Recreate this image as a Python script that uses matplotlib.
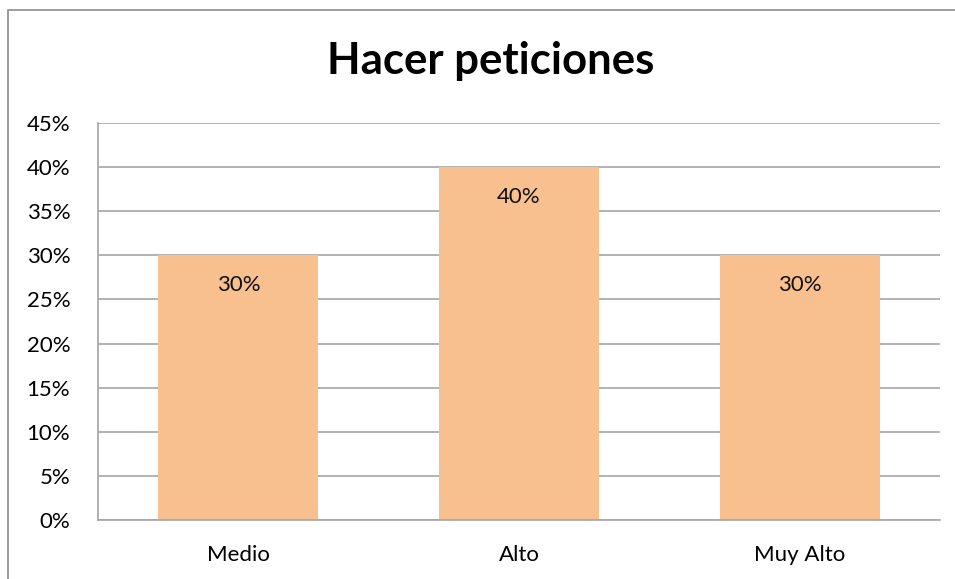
import matplotlib.pyplot as plt
from matplotlib.patches import Rectangle

plt.rcParams['font.family'] = ['Lato', 'DejaVu Sans']

# data
categories = ['Medio', 'Alto', 'Muy Alto']
values = [30, 40, 30]
yticks = [0, 5, 10, 15, 20, 25, 30, 35, 40, 45]

fig = plt.figure(figsize=(9.55, 5.79), dpi=100)
ax = fig.add_axes([98/955, 1 - 520/579, 842/955, 397/579])

# outer chart border (Excel style)
fig.patches.append(Rectangle((8/955, -0.05), 1.1, 1 - 10/579 + 0.05, transform=fig.transFigure,
                             fill=False, edgecolor='#8c8c8c', linewidth=1.2))

x = range(len(categories))
bars = ax.bar(x, values, width=0.57, color='#F9C08F', zorder=2)

for b, v in zip(bars, values):
    ax.annotate(f'{v}%', (b.get_x() + b.get_width() / 2, v), xytext=(0, -30),
                textcoords='offset pixels', ha='center', va='center', fontsize=16, color='#111111')

ax.set_xlim(-0.5, 2.5)
ax.set_ylim(0, 45)
ax.set_yticks(yticks)
ax.set_yticklabels([f'{t}%' for t in yticks], fontsize=16)
ax.set_xticks(list(x))
ax.set_xticklabels(categories, fontsize=16)
ax.grid(axis='y', color='#a6a6a6', linewidth=1.2, zorder=0)
ax.tick_params(axis='both', length=0)
ax.tick_params(axis='y', pad=20)
ax.tick_params(axis='x', pad=18)
for s in ['top', 'right']:
    ax.spines[s].set_visible(False)
for s in ['left', 'bottom']:
    ax.spines[s].set_color('#a6a6a6')
    ax.spines[s].set_linewidth(1.2)

fig.text(491/955, 1 - 61/579, 'Hacer peticiones', ha='center', va='center',
         fontsize=31.5, fontweight='bold')

fig.savefig('out.png', dpi=100)
